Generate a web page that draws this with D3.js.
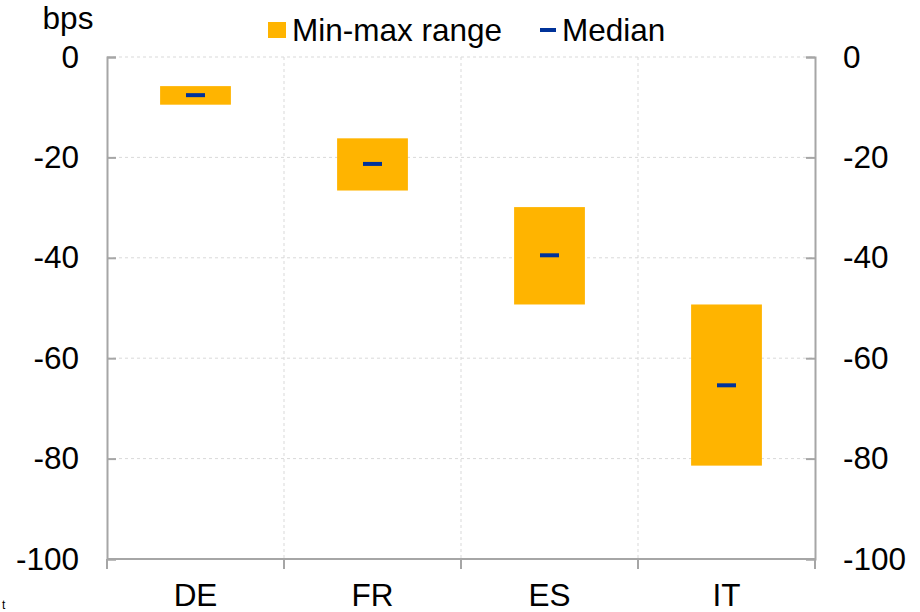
<!DOCTYPE html>
<html>
<head>
<meta charset="utf-8">
<script src="https://cdn.jsdelivr.net/npm/d3@7"></script>
<style>
  body { margin: 0; background: #fff; }
  text { font-family: "Liberation Sans", Arial, sans-serif; fill: #000; }
  .axis path.domain { stroke: #a6a6a6; stroke-width: 2; }
  .axis .tick line { stroke: #a6a6a6; stroke-width: 2; }
  .grid { stroke: #d9d9d9; stroke-width: 1; stroke-dasharray: 3,3; }
</style>
</head>
<body>
<div id="chart"></div>
<script>
// data
var categories = ["DE", "FR", "ES", "IT"];
var minVals = [-9.5, -26.6, -49.3, -81.4];
var maxVals = [-5.8, -16.2, -29.9, -49.3];
var medians = [-7.6, -21.3, -39.5, -65.4];
var yTicks = [0, -20, -40, -60, -80, -100];

var svgWidth = 920;
var svgHeight = 612;
var fontSize = "31.5px";

var margin = { top: 57, right: 105, bottom: 53, left: 107 };
var width = svgWidth - margin.left - margin.right;
var height = svgHeight - margin.top - margin.bottom;

var svg = d3.select("#chart")
  .append("svg")
  .attr("width", svgWidth)
  .attr("height", svgHeight);

var chartGroup = svg.append("g")
  .attr("transform", `translate(${margin.left}, ${margin.top})`);

// scales
var x = d3.scaleBand()
  .domain(categories)
  .range([0, width]);

var y = d3.scaleLinear()
  .domain([-100, 0])
  .range([height, 0]);

var bw = x.bandwidth();

// gridlines
chartGroup.selectAll(".hgrid")
  .data(yTicks.slice(0, -1))
  .enter()
  .append("line")
  .attr("class", "grid")
  .attr("x1", 0)
  .attr("x2", width)
  .attr("y1", d => y(d))
  .attr("y2", d => y(d));

chartGroup.selectAll(".vgrid")
  .data(categories.slice(1))
  .enter()
  .append("line")
  .attr("class", "grid")
  .attr("x1", d => x(d))
  .attr("x2", d => x(d))
  .attr("y1", 0)
  .attr("y2", height);

// min-max bars
chartGroup.selectAll(".range")
  .data(categories)
  .enter()
  .append("rect")
  .attr("x", d => x(d) + bw * 0.3)
  .attr("width", bw * 0.4)
  .attr("y", (d, i) => y(maxVals[i]))
  .attr("height", (d, i) => y(minVals[i]) - y(maxVals[i]))
  .attr("fill", "#ffb400");

// medians
chartGroup.selectAll(".median")
  .data(categories)
  .enter()
  .append("rect")
  .attr("x", d => x(d) + bw / 2 - 9.5)
  .attr("width", 19)
  .attr("y", (d, i) => y(medians[i]) - 2)
  .attr("height", 4)
  .attr("fill", "#003299");

// axes (plain hyphen for negatives)
var fmt = d => String(d);
var leftAxis = d3.axisLeft(y).tickValues(yTicks).tickFormat(fmt).tickSize(-9).tickPadding(28);
var rightAxis = d3.axisRight(y).tickValues(yTicks).tickFormat(fmt).tickSize(-9).tickPadding(28);
var bottomAxis = d3.axisBottom(x).tickSize(0).tickPadding(25);

chartGroup.append("g")
  .attr("class", "axis")
  .call(leftAxis)
  .call(g => g.selectAll("text").style("font-size", fontSize));

chartGroup.append("g")
  .attr("class", "axis")
  .attr("transform", `translate(${width}, 0)`)
  .call(rightAxis)
  .call(g => g.selectAll("text").style("font-size", fontSize));

chartGroup.append("g")
  .attr("class", "axis")
  .attr("transform", `translate(0, ${height})`)
  .call(bottomAxis)
  .call(g => g.select(".domain").remove())
  .call(g => g.selectAll("text").style("font-size", fontSize));

chartGroup.append("line")
  .attr("x1", 0)
  .attr("x2", width)
  .attr("y1", height)
  .attr("y2", height)
  .attr("stroke", "#a6a6a6")
  .attr("stroke-width", 2);

// ticks between categories
chartGroup.selectAll(".xtick")
  .data(d3.range(categories.length + 1))
  .enter()
  .append("line")
  .attr("x1", i => i * bw)
  .attr("x2", i => i * bw)
  .attr("y1", height)
  .attr("y2", height + 10)
  .attr("stroke", "#a6a6a6")
  .attr("stroke-width", 2);

// unit label
svg.append("text")
  .attr("x", 68)
  .attr("y", 29)
  .attr("text-anchor", "middle")
  .style("font-size", fontSize)
  .text("bps");

// legend
var legend = svg.append("g").attr("transform", "translate(268, 0)");
legend.append("rect")
  .attr("x", 0).attr("y", 22)
  .attr("width", 18).attr("height", 16)
  .attr("fill", "#ffb400");
legend.append("text")
  .attr("x", 24).attr("y", 41)
  .style("font-size", fontSize)
  .text("Min-max range");
legend.append("rect")
  .attr("x", 272).attr("y", 28)
  .attr("width", 16).attr("height", 4)
  .attr("fill", "#003299");
legend.append("text")
  .attr("x", 294).attr("y", 41)
  .style("font-size", fontSize)
  .text("Median");

// footnote fragment at the bottom edge
svg.append("text")
  .attr("x", 2)
  .attr("y", 609)
  .style("font-size", "12px")
  .text("t");
</script>
</body>
</html>
